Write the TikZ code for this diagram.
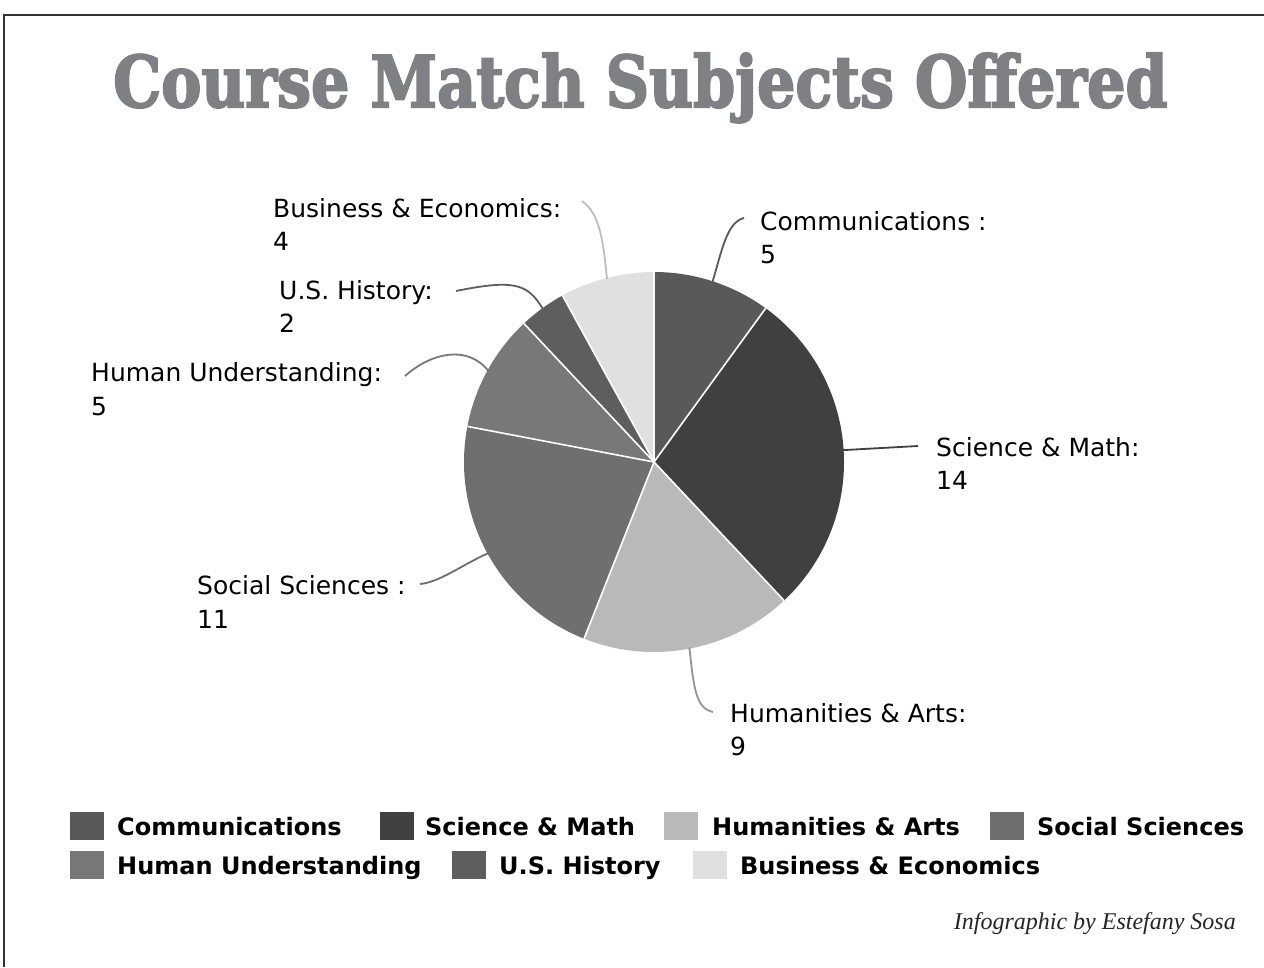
\documentclass[tikz,border=0pt]{standalone}
\usepackage{graphicx}
\usepackage{fontspec}
\setmainfont{DejaVu Sans}
\newfontfamily\labfont{DejaVu Sans}
\newfontfamily\titlefont{DejaVu Serif}[BoldFeatures={FakeBold=3}]
\newfontfamily\credfont{Liberation Serif}
\definecolor{titlegray}{HTML}{7F8083}
\definecolor{cComm}{HTML}{595959}
\definecolor{cSci}{HTML}{404040}
\definecolor{cHum}{HTML}{B9B9B9}
\definecolor{cSoc}{HTML}{6F6F6F}
\definecolor{cHU}{HTML}{787878}
\definecolor{cUSH}{HTML}{5E5E5E}
\definecolor{cBus}{HTML}{E0E0E0}
\definecolor{framegray}{HTML}{333333}
\tikzset{
  lab/.style={font=\labfont\fontsize{25}{30}\selectfont, anchor=base west, inner sep=0pt, text=black},
  leg/.style={font=\labfont\bfseries\fontsize{24}{29}\selectfont, anchor=base west, inner sep=0pt, text=black},
  legbox/.style={minimum width=34pt, minimum height=28pt, inner sep=0pt},
  leader/.style={line width=1.8pt},
  sep/.style={white, line width=1.6pt}
}
\begin{document}
\begin{tikzpicture}[x=1pt,y=-1pt]
\useasboundingbox (0,0) rectangle (1264,967);
\fill[white] (0,0) rectangle (1264,967);
\draw[framegray, line width=1.5pt] (4,967) -- (4,15) -- (1264,15);

% title
\node[anchor=base west, inner sep=0pt, text=titlegray] (title) at (113,107)
  {\resizebox{1054pt}{54pt}{\titlefont\bfseries Course Match Subjects Offered}};

% pie
\begin{scope}[shift={(654,462)}, yscale=-1]
  \fill[cComm] (0,0) -- (90:190) arc[start angle=90, end angle=54, radius=190] -- cycle;
  \fill[cSci]  (0,0) -- (54:190) arc[start angle=54, end angle=-46.8, radius=190] -- cycle;
  \fill[cHum]  (0,0) -- (-46.8:190) arc[start angle=-46.8, end angle=-111.6, radius=190] -- cycle;
  \fill[cSoc]  (0,0) -- (-111.6:190) arc[start angle=-111.6, end angle=-190.8, radius=190] -- cycle;
  \fill[cHU]   (0,0) -- (-190.8:190) arc[start angle=-190.8, end angle=-226.8, radius=190] -- cycle;
  \fill[cUSH]  (0,0) -- (-226.8:190) arc[start angle=-226.8, end angle=-241.2, radius=190] -- cycle;
  \fill[cBus]  (0,0) -- (-241.2:190) arc[start angle=-241.2, end angle=-270, radius=190] -- cycle;
  \foreach \a in {90,54,-46.8,-111.6,-190.8,-226.8,-241.2}
    \draw[sep] (0,0) -- (\a:190);
  \coordinate (pComm) at (72:189);
  \coordinate (pSci) at (3.6:189);
  \coordinate (pHum) at (-79.2:189);
  \coordinate (pSoc) at (-151.2:189);
  \coordinate (pHU) at (151.2:189);
  \coordinate (pUSH) at (126:189);
  \coordinate (pBus) at (104.4:189);
\end{scope}

% labels
\node[lab] (lbComm) at (760,230) {Communications :};
\node[lab] (vComm) at (760,263) {5};
\node[lab] (lbSci) at (936,456) {Science \& Math:};
\node[lab] (vSci) at (936,489) {14};
\node[lab] (lbHum) at (730,722) {Humanities \& Arts:};
\begin{scope}
  \clip (720,725) rectangle (800,755);
  \node[lab] (vHum) at (730,755) {9};
\end{scope}
\node[lab] (lbSoc) at (197,594) {Social Sciences :};
\node[lab] (vSoc) at (197,628) {11};
\node[lab] (lbHU) at (91,381) {Human Understanding:};
\node[lab] (vHU) at (91,415) {5};
\node[lab] (lbUSH) at (279,299) {U.S. History:};
\node[lab] (vUSH) at (279,332) {2};
\node[lab] (lbBus) at (273,217) {Business \& Economics:};
\node[lab] (vBus) at (273,250) {4};

% leader ends
\coordinate (eComm) at (744,218);
\coordinate (eSci) at (918,446);
\coordinate (eHum) at (713,712);
\coordinate (eSoc) at (420,584);
\coordinate (eHU) at (405,376);
\coordinate (eUSH) at (456,291);
\coordinate (eBus) at (582,201);

\draw[leader, cComm] (pComm) .. controls (722,250) and (727,222) .. (eComm);
\draw[leader, cSci] (pSci) -- (eSci);
\draw[leader, cHum!80!black] (pHum) .. controls (694,690) and (696,708) .. (eHum);
\draw[leader, cSoc] (pSoc) .. controls (460,566) and (440,582) .. (eSoc);
\draw[leader, cHU] (pHU) .. controls (468,345) and (432,352) .. (eHU);
\draw[leader, cUSH] (pUSH) .. controls (528,284) and (515,279) .. (eUSH);
\draw[leader, cBus!85!black] (pBus) .. controls (603,240) and (600,214) .. (eBus);

% legend row 1
\node[legbox, fill=cComm] (sqComm) at (87,826) {};
\node[leg] (tComm) at (117,835) {Communications};
\node[legbox, fill=cSci] (sqSci) at (397,826) {};
\node[leg] (tSci) at (425,835) {Science \& Math};
\node[legbox, fill=cHum] (sqHum) at (681,826) {};
\node[leg] (tHum) at (712,835) {Humanities \& Arts};
\node[legbox, fill=cSoc] (sqSoc) at (1007,826) {};
\node[leg] (tSoc) at (1037,835) {Social Sciences};
% legend row 2
\node[legbox, fill=cHU] (sqHU) at (87,865) {};
\node[leg] (tHU) at (117,874) {Human Understanding};
\node[legbox, fill=cUSH] (sqUSH) at (469,865) {};
\node[leg] (tUSH) at (499,874) {U.S. History};
\node[legbox, fill=cBus] (sqBus) at (710,865) {};
\node[leg] (tBus) at (740,874) {Business \& Economics};

% credit
\node[anchor=base east, inner sep=0pt, text=black!85, font=\credfont\itshape\fontsize{24}{29}\selectfont] (credit) at (1236,929) {Infographic by Estefany Sosa};
\end{tikzpicture}
\end{document}
